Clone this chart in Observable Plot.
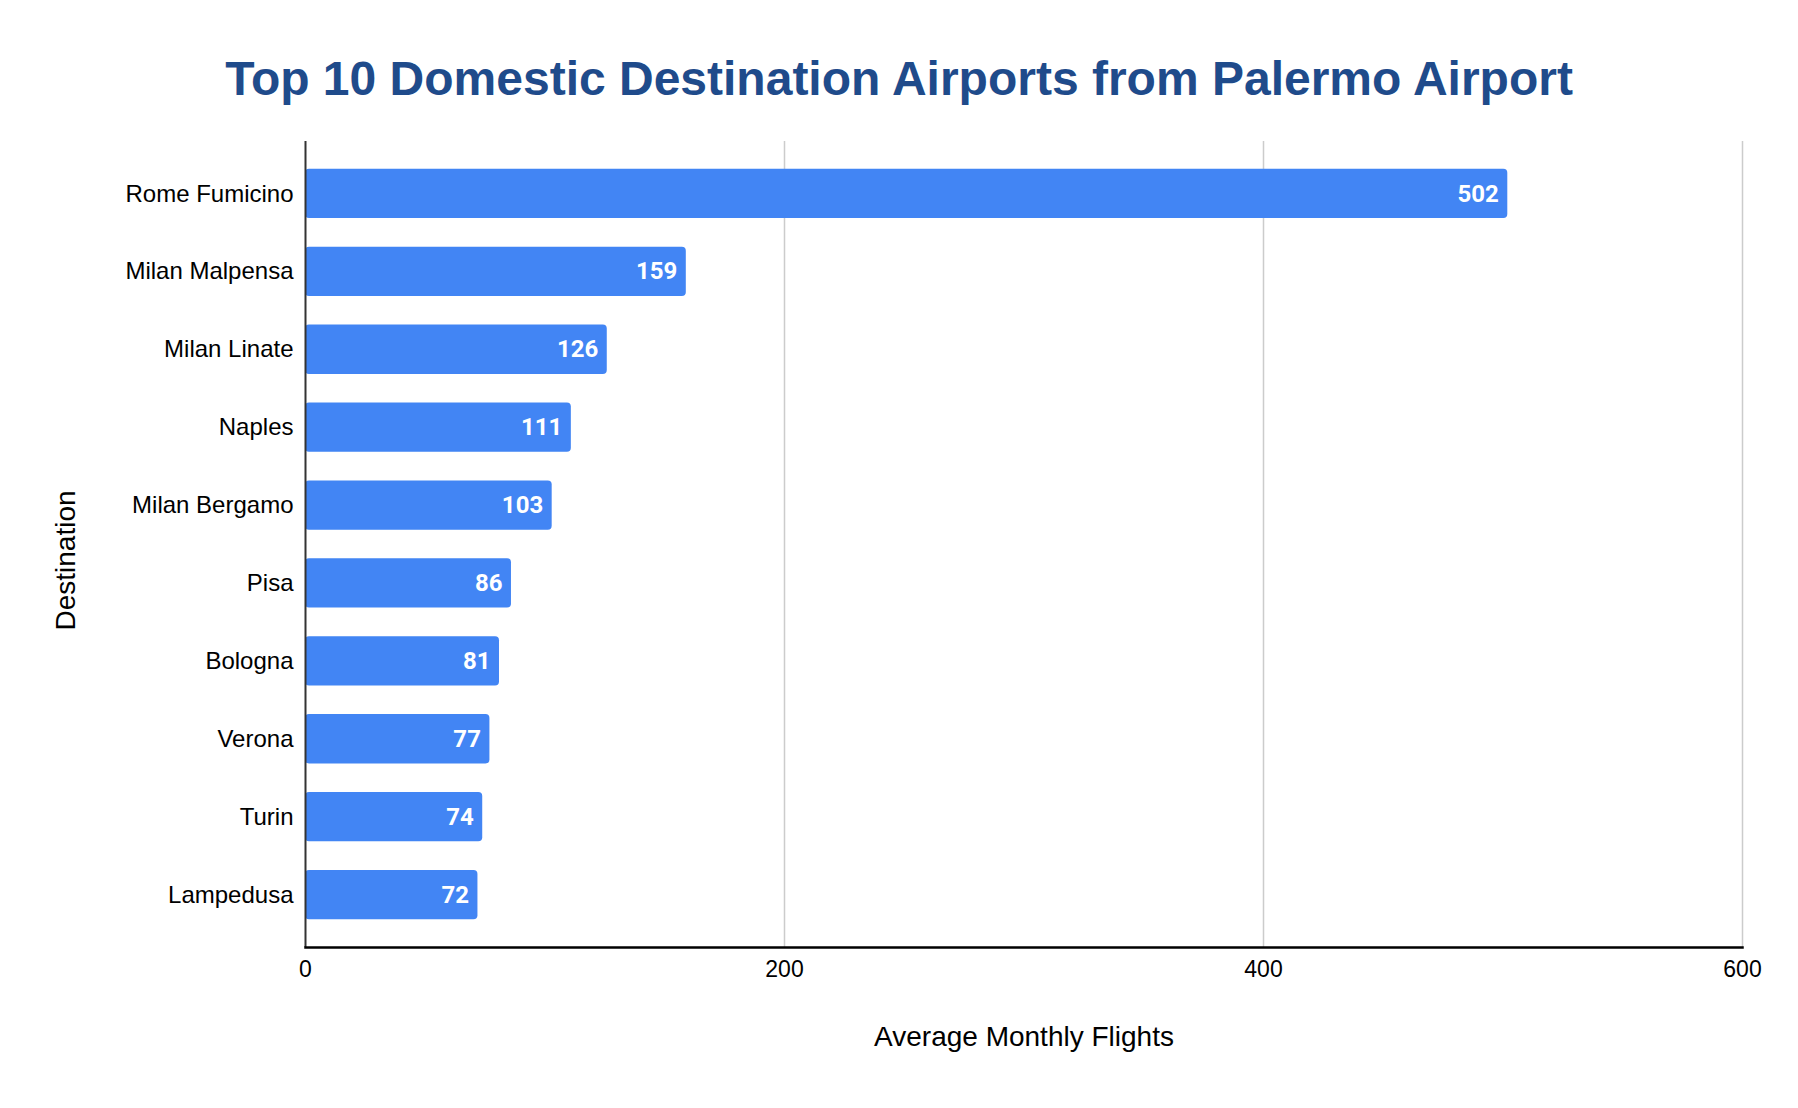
<!DOCTYPE html>
<html>
<head>
<meta charset="utf-8">
<script src="https://cdn.jsdelivr.net/npm/d3@7"></script>
<script src="https://cdn.jsdelivr.net/npm/@observablehq/plot@0.6"></script>
<style>
  html, body { margin: 0; padding: 0; background: #fff; }
  #title {
    box-sizing: border-box;
    width: 1798px; height: 120px; padding-top: 55px;
    font-family: "Liberation Sans", Arial, sans-serif;
    font-weight: bold; font-size: 48px; line-height: 48px;
    color: #1f4b8b; text-align: center;
  }
</style>
</head>
<body>
<div id="title">Top 10 Domestic Destination Airports from Palermo Airport</div>
<div id="chart"></div>
<script>
const destinations = ["Rome Fumicino", "Milan Malpensa", "Milan Linate", "Naples", "Milan Bergamo", "Pisa", "Bologna", "Verona", "Turin", "Lampedusa"];
const flights = [502, 159, 126, 111, 103, 86, 81, 77, 74, 72];
const xTicks = [0, 200, 400, 600];
const xLabel = "Average Monthly Flights";
const yLabel = "Destination";

const data = destinations.map((name, i) => ({name, value: flights[i]}));

const chart = Plot.plot({
  width: 1798,
  height: 988,
  marginTop: 21,
  marginBottom: 161,
  marginLeft: 305,
  marginRight: 56,
  style: {fontFamily: "'Liberation Sans', Arial, sans-serif", fontSize: "24px", color: "#000", background: "#fff"},
  x: {domain: [0, 600]},
  y: {domain: destinations, paddingInner: 0.367, paddingOuter: 0.356, round: false},
  marks: [
    Plot.ruleX(xTicks.slice(1), {stroke: "#cccccc", strokeWidth: 1.5}),
    Plot.barX(data, {x: "value", y: "name", fill: "#4285f4", rx: 4}),
    Plot.text(data, {x: "value", y: "name", text: d => String(d.value), textAnchor: "end", dx: -9,
      fill: "#fff", fontWeight: "bold", fontSize: 24, fontFamily: "Roboto, sans-serif"}),
    Plot.ruleX([0], {stroke: "#333", strokeWidth: 2}),
    Plot.frame({anchor: "bottom", stroke: "#000", strokeWidth: 2.5}),
    Plot.axisX({ticks: xTicks, tickSize: 0, tickPadding: 13, label: null, fontSize: 23}),
    Plot.axisY({tickSize: 0, tickPadding: 12, label: null, fontSize: 24}),
    Plot.text([xLabel], {frameAnchor: "bottom", dy: 90, fontSize: 28, fill: "#000", lineAnchor: "middle", textAnchor: "middle"}),
    Plot.text([yLabel], {frameAnchor: "left", rotate: -90, dx: -239, dy: 16, fontSize: 28, fill: "#000", lineAnchor: "middle", textAnchor: "middle"})
  ]
});
document.getElementById("chart").appendChild(chart);
</script>
</body>
</html>
